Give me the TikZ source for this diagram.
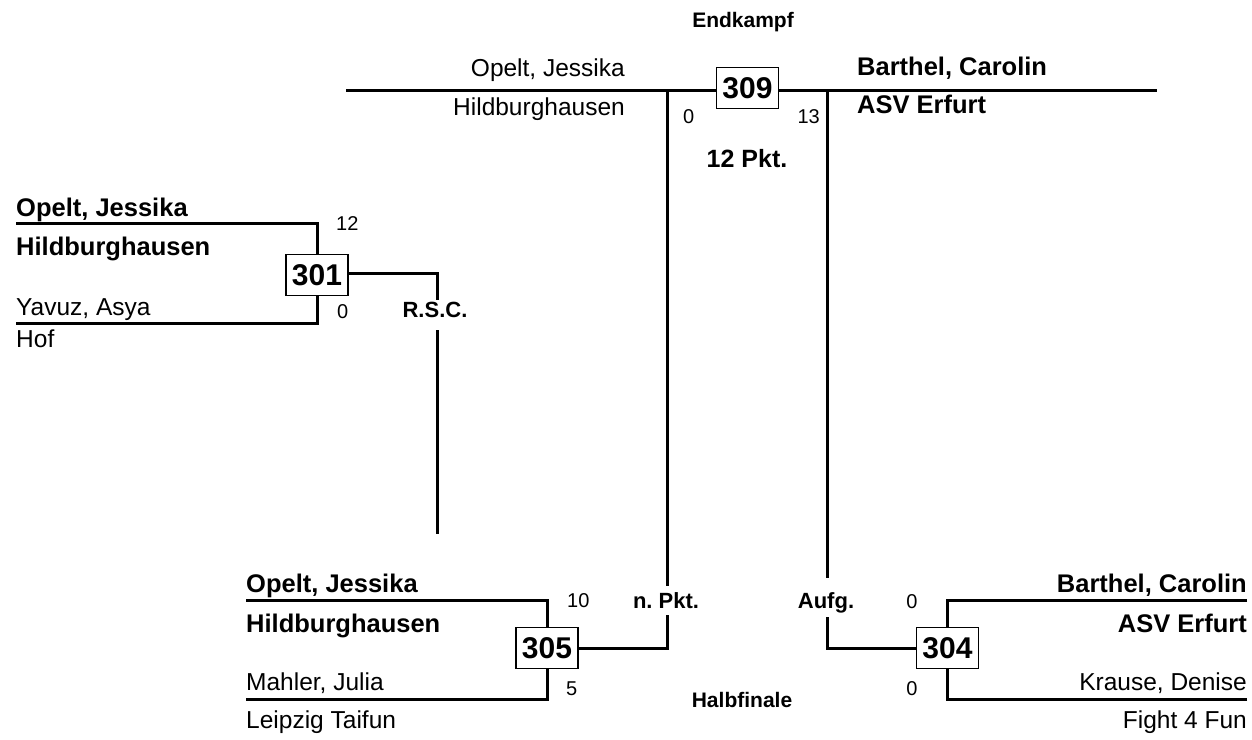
\documentclass[tikz,border=0pt]{standalone}
\usepackage{fontspec}
\setmainfont{Liberation Sans}
\frenchspacing
\newcommand\fsName{\fontsize{24.5}{29}\selectfont}
\newcommand\fsNameB{\fontsize{25.5}{30}\selectfont\bfseries}
\newcommand\fsBox{\fontsize{30}{34}\selectfont\bfseries}
\newcommand\fsRes{\fontsize{22}{26}\selectfont\bfseries}
\newcommand\fsBig{\fontsize{25}{29}\selectfont\bfseries}
\newcommand\fsScore{\fontsize{20}{24}\selectfont}
\newcommand\fsHead{\fontsize{21}{25}\selectfont\bfseries}
\begin{document}
\begin{tikzpicture}[x=1pt,y=-1pt,
  ln/.style={line width=3pt},
  fight/.style={draw, line width=1.2pt, fill=white, minimum width=62pt, minimum height=41pt, inner sep=0pt, font=\fsBox},
  nameL/.style={inner sep=0pt, anchor=base west, font=\fsName},
  nameR/.style={inner sep=0pt, anchor=base east, font=\fsName},
  bnameL/.style={inner sep=0pt, anchor=base west, font=\fsNameB},
  bnameR/.style={inner sep=0pt, anchor=base east, font=\fsNameB},
  res/.style={inner sep=0pt, anchor=base, font=\fsRes},
  score/.style={inner sep=0pt, font=\fsScore},
  head/.style={inner sep=0pt, anchor=base, font=\fsHead}]
\useasboundingbox (0,0) rectangle (1252,739);

% ---------- headings
\node[head] (endk) at (743,27) {Endkampf};
\node[head] (halbf) at (742,707) {Halbfinale};

% ---------- final 309
\node[fight] (b309) at (747.5,88) {309};
\coordinate (tL) at (346,90);
\coordinate (tR) at (1157,90);
\coordinate (vL) at (667,90);
\coordinate (vR) at (827,90);
\draw[ln] (tL) -- (b309.west |- tL);
\draw[ln] (b309.east |- tR) -- (tR);
\node[nameR] (fO) at (625,76) {Opelt, Jessika};
\node[nameR] (fOc) at (625,115) {Hildburghausen};
\node[bnameL] (fB) at (857,75) {Barthel, Carolin};
\node[bnameL] (fBc) at (857,113) {ASV Erfurt};
\node[score, anchor=base west] (s309a) at (683,123) {0};
\node[score, anchor=base east] (s309b) at (820,123) {13};
\node[inner sep=0pt, anchor=base, font=\fsBig] (pkt) at (747,167) {12 Pkt.};

% ---------- 301
\node[fight] (b301) at (317,275) {301};
\coordinate (a1) at (16,223);
\coordinate (a2) at (16,323);
\draw[ln] (a1) -| (b301.north);
\draw[ln] (a2) -| (b301.south);
\node[bnameL] (n1) at (16,216) {Opelt, Jessika};
\node[bnameL] (n1c) at (16,255) {Hildburghausen};
\node[nameL] (n2) at (16,315) {Yavuz, Asya};
\node[nameL] (n2c) at (16,347) {Hof};
\node[score, anchor=base west] (s301a) at (336,230) {12};
\node[score, anchor=base west] (s301b) at (337,318) {0};
\node[res] (rsc) at (435,317) {R.S.C.};
\coordinate (rscTop) at (437,300);
\coordinate (rscBot) at (437,330);
\coordinate (rscEnd) at (437,534);
\draw[ln] (b301.east |- 0,273) -| (rscTop);
\draw[ln] (rscBot) -- (rscEnd);

% ---------- 305
\node[fight] (b305) at (547,648) {305};
\coordinate (c1) at (246,600);
\coordinate (c2) at (246,699);
\draw[ln] (c1) -| (b305.north);
\draw[ln] (c2) -| (b305.south);
\node[bnameL] (n3) at (246,592) {Opelt, Jessika};
\node[bnameL] (n3c) at (246,632) {Hildburghausen};
\node[nameL] (n4) at (246,690) {Mahler, Julia};
\node[nameL] (n4c) at (246,728) {Leipzig Taifun};
\node[score, anchor=base west] (s305a) at (567,607) {10};
\node[score, anchor=base west] (s305b) at (566,695) {5};
\node[res] (npkt) at (666,608) {n. Pkt.};
\coordinate (npTop) at (667,586);
\coordinate (npBot) at (667,615);
\draw[ln] (vL) -- (npTop);
\draw[ln] (npBot) |- (b305.east);

% ---------- 304
\node[fight] (b304) at (947.5,648) {304};
\coordinate (d1) at (1247,600);
\coordinate (d2) at (1247,699);
\draw[ln] (d1) -| (b304.north);
\draw[ln] (d2) -| (b304.south);
\node[bnameR] (n5) at (1247,592) {Barthel, Carolin};
\node[bnameR] (n5c) at (1247,632) {ASV Erfurt};
\node[nameR] (n6) at (1247,690) {Krause, Denise};
\node[nameR] (n6c) at (1247,728) {Fight 4 Fun};
\node[score, anchor=base] (s304a) at (912,608) {0};
\node[score, anchor=base] (s304b) at (912,695) {0};
\node[res] (aufg) at (826,608) {Aufg.};
\coordinate (auTop) at (827,578);
\coordinate (auBot) at (827,617);
\draw[ln] (vR) -- (auTop);
\draw[ln] (auBot) |- (b304.west);
\end{tikzpicture}
\end{document}
